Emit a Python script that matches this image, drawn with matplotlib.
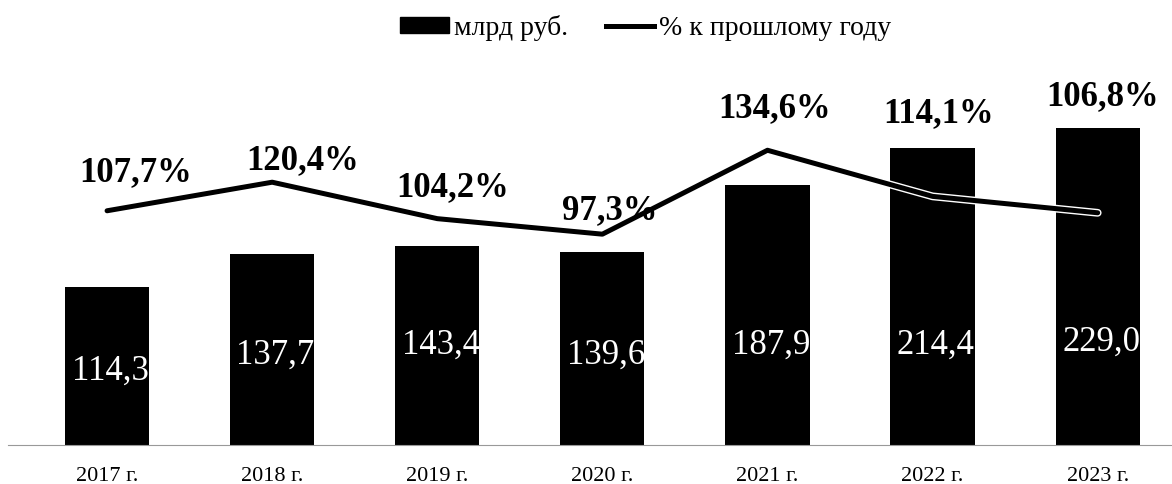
import matplotlib
matplotlib.use('Agg')
import matplotlib.pyplot as plt
import matplotlib.patheffects as pe
from matplotlib.patches import Patch
from matplotlib.lines import Line2D
import numpy as np

plt.rcParams['font.family'] = ['Liberation Serif', 'DejaVu Serif']

years = ['2017 г.', '2018 г.', '2019 г.', '2020 г.', '2021 г.', '2022 г.', '2023 г.']
volume = [114.3, 137.7, 143.4, 139.6, 187.9, 214.4, 229.0]      # млрд руб.
growth = [107.7, 120.4, 104.2, 97.3, 134.6, 114.1, 106.8]       # % к прошлому году

# label placement (layout only)
bar_label_y = [53, 65, 72, 65, 72, 72, 74]
pct_offsets = [(29, 38), (30, 22), (15, 31), (7, 24), (7, 42), (6, 83), (5, 116)]

def fmt(v):
    return f"{v:.1f}".replace('.', ',')

fig = plt.figure(figsize=(11.72, 4.84), dpi=100)
ax = fig.add_axes([8 / 1172, 39 / 484, 1164 / 1172, 385 / 484])
ax2 = ax.twinx()

x = np.arange(len(years))
ax.bar(x, volume, width=0.51, color='black', zorder=2)
ax.set_xlim(-0.6, 6.45)
ax.set_ylim(0, 385 / 1.386)

for xi, v, ly in zip(x, volume, bar_label_y):
    ax.text(xi + 0.02, ly, fmt(v), color='white', fontsize=25,
            ha='center', va='center', zorder=3)

ax2.plot(x, growth, color='black', lw=3.6, solid_capstyle='round', zorder=4,
         path_effects=[pe.Stroke(linewidth=5.6, foreground='white'), pe.Normal()])
ax2.set_ylim(3.6, 3.6 + 385 / 2.25)

for xi, g, (dx, dy) in zip(x, growth, pct_offsets):
    ax2.annotate(fmt(g) + '%', (xi, g), xytext=(dx, dy), textcoords='offset pixels',
                 ha='center', va='center', fontsize=25, fontweight='bold', zorder=5)

ax.set_xticks(x)
ax.set_xticklabels(years, fontsize=16)
ax.tick_params(axis='x', length=0, pad=16)
ax.set_yticks([])
ax2.set_yticks([])
ax2.set_zorder(ax.get_zorder() + 1)
ax2.patch.set_visible(False)

for a in (ax, ax2):
    for s in ['top', 'right', 'left']:
        a.spines[s].set_visible(False)
    a.spines['bottom'].set_color('#999999')
    a.spines['bottom'].set_linewidth(0.8)
ax2.spines['bottom'].set_visible(False)

handles = [Patch(facecolor='black', edgecolor='black'),
           Line2D([0], [0], color='black', lw=3.6)]
fig.legend(handles, ['млрд руб.', '% к прошлому году'], loc='upper center',
           bbox_to_anchor=(0.551, 1.01), ncol=2, frameon=False, fontsize=20,
           handlelength=1.76, handleheight=0.5, handletextpad=0.18,
           columnspacing=1.35, borderpad=0.2)

fig.savefig('out.png', dpi=100)
